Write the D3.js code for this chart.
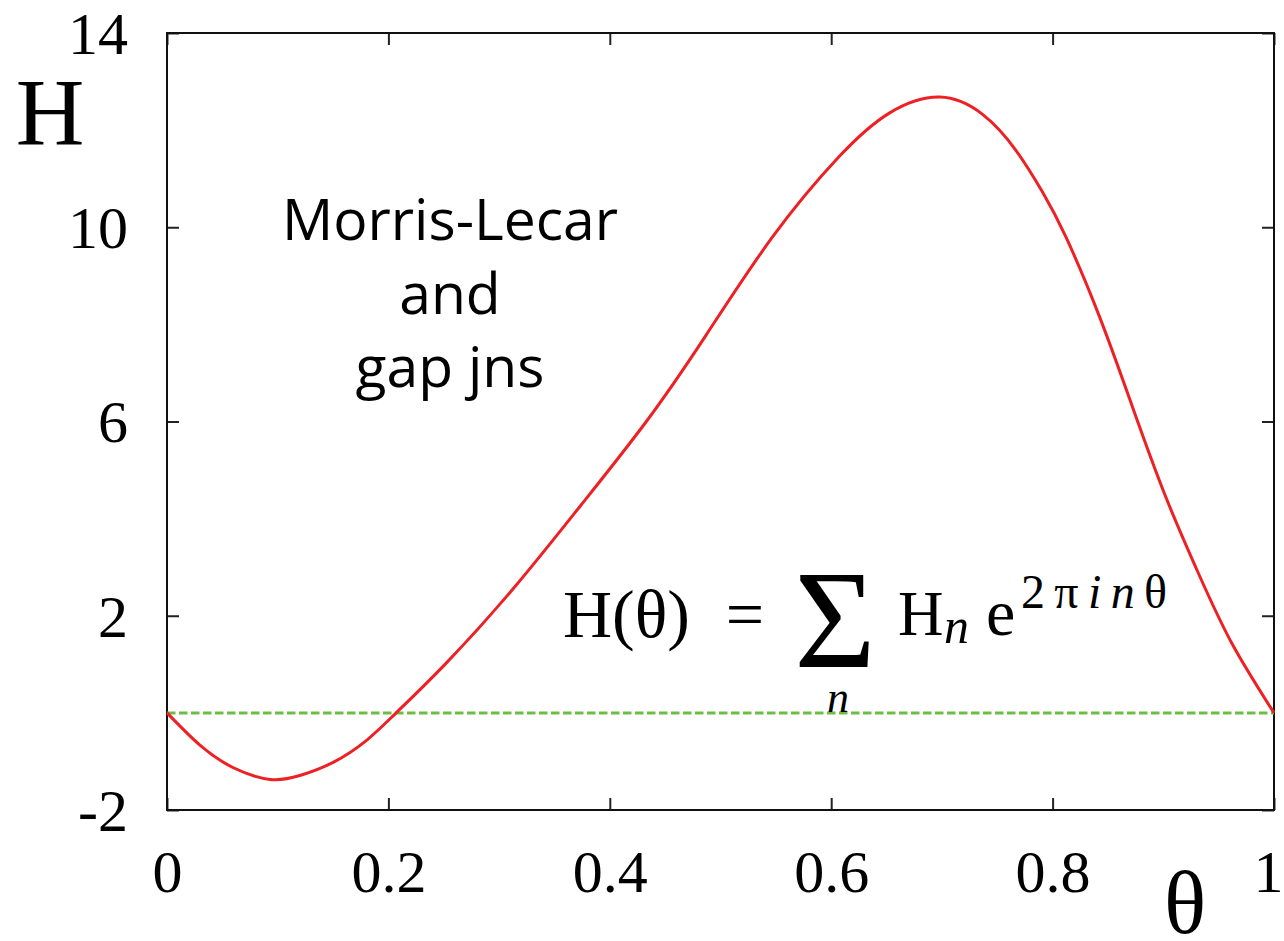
<!DOCTYPE html>
<html>
<head>
<meta charset="utf-8">
<script src="https://cdn.jsdelivr.net/npm/d3@7"></script>
<style>
  body { margin: 0; background: #fff; }
  svg { display: block; }
  .tick text { font-family: "Liberation Serif", serif; }
</style>
</head>
<body>
<div id="chart"></div>
<script>
// phase values (theta) and H(theta)
var thetaVals = [0, 0.03, 0.06, 0.093, 0.12, 0.15, 0.18, 0.207, 0.252, 0.3125, 0.373, 0.433, 0.487,
  0.547, 0.607, 0.6525, 0.698, 0.737, 0.767, 0.791, 0.812, 0.842, 0.872, 0.902, 0.932, 0.962, 1];
var hVals = [0, -0.67, -1.13, -1.37, -1.29, -1.02, -0.57, 0, 1.02, 2.55, 4.25, 6.0, 7.78,
  9.8, 11.45, 12.35, 12.68, 12.32, 11.58, 10.72, 9.8, 8.18, 6.31, 4.46, 2.86, 1.43, 0];
var xTicks = [0, 0.2, 0.4, 0.6, 0.8, 1];
var xTickLabels = ["0", "0.2", "0.4", "0.6", "0.8", "1"];
var yTicks = [-2, 2, 6, 10, 14];
var yTickLabels = ["-2", "2", "6", "10", "14"];
var refLine = [0, 0];

var W = 1284, H = 941;
var svg = d3.select("#chart").append("svg")
  .attr("width", W)
  .attr("height", H);

var xx = d3.scaleLinear().domain([0, 1]).range([167, 1274]);
var yy = d3.scaleLinear().domain([-2, 14]).range([810, 33]);

// axes, ticks point inward
var bottom = svg.append("g")
  .attr("transform", "translate(0," + yy(-2) + ")")
  .call(d3.axisBottom(xx).tickValues(xTicks)
    .tickFormat(function (d, i) { return xTickLabels[i]; })
    .tickSizeInner(-12).tickSizeOuter(0).tickPadding(39));
var top_ = svg.append("g")
  .attr("transform", "translate(0," + yy(14) + ")")
  .call(d3.axisTop(xx).tickValues(xTicks).tickFormat("")
    .tickSizeInner(-12).tickSizeOuter(0));
var left = svg.append("g")
  .attr("transform", "translate(" + xx(0) + ",0)")
  .call(d3.axisLeft(yy).tickValues(yTicks)
    .tickFormat(function (d, i) { return yTickLabels[i]; })
    .tickSizeInner(-12).tickSizeOuter(0).tickPadding(39));
var right = svg.append("g")
  .attr("transform", "translate(" + xx(1) + ",0)")
  .call(d3.axisRight(yy).tickValues(yTicks).tickFormat("")
    .tickSizeInner(-12).tickSizeOuter(0));

svg.selectAll(".domain").remove();
svg.selectAll(".tick line").attr("stroke", "#222").attr("stroke-width", 2);
svg.selectAll(".tick text").attr("font-size", 60).attr("fill", "#000");
left.selectAll(".tick text").attr("dy", "0.34em");
// last label sits on the page edge
bottom.selectAll(".tick text").filter(function (d) { return d === 1; }).attr("dx", -6);

// frame
svg.append("rect")
  .attr("x", xx(0)).attr("y", yy(14))
  .attr("width", xx(1) - xx(0)).attr("height", yy(-2) - yy(14))
  .attr("fill", "none").attr("stroke", "#111").attr("stroke-width", 2);

// zero line
svg.append("line")
  .attr("x1", xx(refLine[0])).attr("x2", xx(1))
  .attr("y1", yy(refLine[1])).attr("y2", yy(refLine[1]))
  .attr("stroke", "#6cbd45").attr("stroke-width", 3)
  .attr("stroke-dasharray", "8.5,3.5");

// H curve
var line = d3.line()
  .x(function (d, i) { return xx(thetaVals[i]); })
  .y(function (d) { return yy(d); })
  .curve(d3.curveNatural);
svg.append("path")
  .datum(hVals)
  .attr("d", line)
  .attr("fill", "none")
  .attr("stroke", "#ee2024")
  .attr("stroke-width", 3);

// axis titles
svg.append("text").attr("x", 50).attr("y", 145)
  .attr("text-anchor", "middle")
  .attr("font-family", "Liberation Serif, serif").attr("font-size", 95)
  .text("H");
svg.append("text").attr("x", 1185).attr("y", 933)
  .attr("text-anchor", "middle")
  .attr("font-family", "Liberation Serif, serif").attr("font-size", 88)
  .text("θ");

// label
var lab = svg.append("text")
  .attr("text-anchor", "middle")
  .attr("font-family", "Open Sans, sans-serif")
  .attr("font-size", 57);
["Morris-Lecar", "and", "gap jns"].forEach(function (s, i) {
  lab.append("tspan").attr("x", 450).attr("y", 240 + i * 73.5).text(s);
});

// formula
var serif = "Liberation Serif, serif";
svg.append("text").attr("x", 563).attr("y", 637)
  .attr("font-family", serif).attr("font-size", 68).text("H(θ)");
svg.append("text").attr("x", 745).attr("y", 637).attr("text-anchor", "middle")
  .attr("font-family", serif).attr("font-size", 68).text("=");
svg.append("text").attr("x", 835).attr("y", 667).attr("text-anchor", "middle")
  .attr("font-family", serif).attr("font-size", 140).text("Σ");
svg.append("text").attr("x", 838).attr("y", 712).attr("text-anchor", "middle")
  .attr("font-family", serif).attr("font-style", "italic").attr("font-size", 44).text("n");
svg.append("text").attr("x", 898).attr("y", 635)
  .attr("font-family", serif).attr("font-size", 63).text("H");
svg.append("text").attr("x", 944).attr("y", 643)
  .attr("font-family", serif).attr("font-style", "italic").attr("font-size", 50).text("n");
svg.append("text").attr("x", 986).attr("y", 635)
  .attr("font-family", serif).attr("font-size", 66).text("e");
var sup = svg.append("text").attr("x", 1021).attr("y", 608)
  .attr("font-family", serif).attr("font-size", 48)
  .attr("textLength", 146).attr("lengthAdjust", "spacing");
sup.append("tspan").text("2π");
sup.append("tspan").attr("font-style", "italic").text("in");
sup.append("tspan").text("θ");
</script>
</body>
</html>
